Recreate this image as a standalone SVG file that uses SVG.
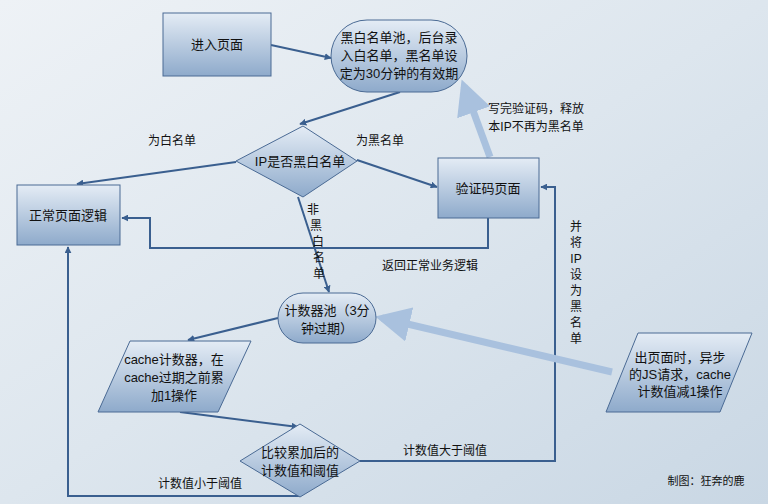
<svg xmlns="http://www.w3.org/2000/svg" width="768" height="504" viewBox="0 0 768 504">
<defs>
<linearGradient id="bg" x1="0" y1="0" x2="1" y2="1"><stop offset="0" stop-color="#eef2f6"/><stop offset="0.5" stop-color="#dde6ee"/><stop offset="1" stop-color="#c9d7e4"/></linearGradient>
<linearGradient id="nf" x1="0" y1="0" x2="0" y2="1"><stop offset="0" stop-color="#e4ecf5"/><stop offset="1" stop-color="#8eaacb"/></linearGradient>
<marker id="ah" viewBox="0 0 10 10" refX="9" refY="5" markerWidth="7" markerHeight="7" orient="auto" markerUnits="userSpaceOnUse"><path d="M0,0L10,5L0,10z" fill="#3a5f8f"/></marker>
<marker id="ah2" viewBox="0 0 10 10" refX="8" refY="5" markerWidth="5" markerHeight="5" orient="auto"><path d="M0,0L10,5L0,10z" fill="#a9c1de"/></marker>
</defs>
<style>
.n{fill:url(#nf);stroke:#4a6a94;stroke-width:1}
.t{font-family:"Liberation Sans","Noto Sans CJK SC",sans-serif;font-size:13px;fill:#111;text-anchor:middle}
.l{font-family:"Liberation Sans","Noto Sans CJK SC",sans-serif;font-size:12px;fill:#111;text-anchor:middle}
.c{fill:none;stroke:#3a5f8f;stroke-width:2;marker-end:url(#ah)}
.w{fill:none;stroke:#a9c1de;stroke-width:7;marker-end:url(#ah2)}
</style>
<rect width="768" height="504" fill="url(#bg)"/>
<g id="connectors">
<line class="c" x1="271" y1="45" x2="331" y2="58"/>
<line class="c" x1="400" y1="92" x2="300" y2="124"/>
<line class="c" x1="236" y1="162" x2="77" y2="184"/>
<line class="c" x1="357" y1="160" x2="437" y2="187"/>
<line class="w" x1="490" y1="157" x2="464" y2="86"/>
<polyline class="c" points="488,218 488,248 150,248 150,218 122,218"/>
<line class="c" x1="298" y1="197" x2="329" y2="292"/>
<line class="c" x1="278" y1="318" x2="188" y2="340"/>
<line class="c" x1="180" y1="412" x2="298" y2="427"/>
<polyline class="c" points="360,461 555,461 555,187 541,187"/>
<polyline class="c" points="300,496 68,496 68,247"/>
<line class="w" x1="612" y1="372" x2="382" y2="318"/>
</g>
<g id="n1"><rect class="n" x="163" y="13" width="108" height="63"/><text class="t" x="217" y="49">进入页面</text></g>
<g id="n2"><rect class="n" x="331" y="20" width="136" height="72" rx="36"/><text class="t" x="399" y="42">黑白名单池，后台录</text><text class="t" x="399" y="60">入白名单，黑名单设</text><text class="t" x="399" y="78">定为30分钟的有效期</text></g>
<g id="n3"><polygon class="n" points="303,126 357,161 303,197 236,161"/><text class="t" x="300" y="166">IP是否黑白名单</text></g>
<g id="n4"><rect class="n" x="438" y="158" width="101" height="60"/><text class="t" x="488" y="193">验证码页面</text></g>
<g id="n5"><rect class="n" x="17" y="185" width="103" height="60"/><text class="t" x="68" y="220">正常页面逻辑</text></g>
<g id="n6"><rect class="n" x="278" y="293" width="98" height="50" rx="25"/><text class="t" x="327" y="315">计数器池（3分</text><text class="t" x="327" y="333">钟过期）</text></g>
<g id="n7"><polygon class="n" points="130,341 251,341 218,412 98,412"/><text class="t" x="174" y="364">cache计数器，在</text><text class="t" x="174" y="382">cache过期之前累</text><text class="t" x="174" y="400">加1操作</text></g>
<g id="n8"><polygon class="n" points="300,424 360,461 300,497 240,461"/><text class="t" x="300" y="457">比较累加后的</text><text class="t" x="300" y="475">计数值和阈值</text></g>
<g id="n9"><polygon class="n" points="638,333 752,333 720,412 606,412"/><text class="t" x="680" y="362">出页面时，异步</text><text class="t" x="680" y="379">的JS请求，cache</text><text class="t" x="680" y="396">计数值减1操作</text></g>
<g id="labels">
<text class="l" x="172" y="145">为白名单</text>
<text class="l" x="380" y="145">为黑名单</text>
<text class="l" x="536" y="113">写完验证码，释放</text>
<text class="l" x="536" y="131">本IP不再为黑名单</text>
<text class="l" x="430" y="270">返回正常业务逻辑</text>
<text class="l" x="313" y="214">非</text><text class="l" x="316" y="230">黑</text><text class="l" x="318" y="246">白</text><text class="l" x="319" y="262">名</text><text class="l" x="319" y="278">单</text>
<text class="l" x="576" y="231">并</text><text class="l" x="576" y="247">将</text><text class="l" x="576" y="263">IP</text><text class="l" x="576" y="279">设</text><text class="l" x="576" y="295">为</text><text class="l" x="576" y="311">黑</text><text class="l" x="576" y="327">名</text><text class="l" x="576" y="343">单</text>
<text class="l" x="445" y="455">计数值大于阈值</text>
<text class="l" x="200" y="488">计数值小于阈值</text>
<text class="l" x="706" y="485" style="font-size:11px">制图：狂奔的鹿</text>
</g>
</svg>
